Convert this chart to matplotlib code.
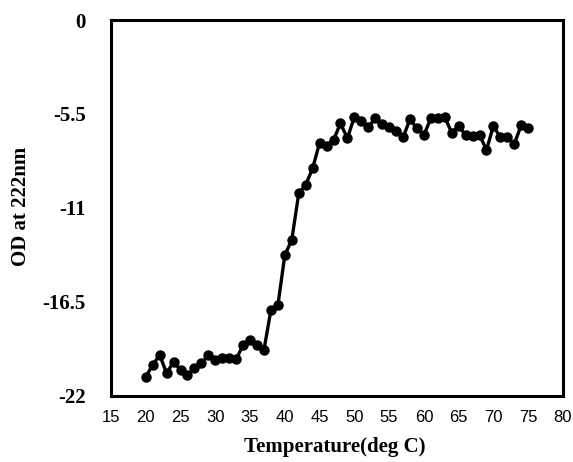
import matplotlib
matplotlib.use("Agg")
import matplotlib.pyplot as plt

# Thermal denaturation scan: ellipticity signal at 222 nm vs temperature
temperature = list(range(20, 76))
od_222 = [
    -20.87, -20.19, -19.60, -20.67, -20.00, -20.48, -20.77, -20.38, -20.09, -19.60,
    -19.90, -19.80, -19.80, -19.86, -19.02, -18.72, -19.00, -19.30, -16.97, -16.70,
    -13.75, -12.87, -10.14, -9.65, -8.68, -7.18, -7.35, -7.02, -6.05, -6.92,
    -5.66, -5.89, -6.28, -5.75, -6.08, -6.28, -6.48, -6.87, -5.81, -6.34,
    -6.73, -5.75, -5.75, -5.69, -6.59, -6.20, -6.73, -6.79, -6.73, -7.60,
    -6.20, -6.87, -6.87, -7.26, -6.14, -6.30,
]
x_ticks = [15, 20, 25, 30, 35, 40, 45, 50, 55, 60, 65, 70, 75, 80]
y_ticks = [0, -5.5, -11, -16.5, -22]
y_tick_labels = ["0", "-5.5", "-11", "-16.5", "-22"]

fig = plt.figure(figsize=(5.73, 4.62), dpi=100)
ax = fig.add_axes([0.1937, 0.1429, 0.7888, 0.8138])

ax.plot(temperature, od_222, color="black", linewidth=2.4,
        marker="o", markersize=6.5, markerfacecolor="black", markeredgecolor="black")

ax.set_xlim(15, 80)
ax.set_ylim(-22, 0)
ax.set_xticks(x_ticks)
ax.set_yticks(y_ticks)
ax.set_yticklabels(y_tick_labels, fontfamily="Liberation Serif",
                   fontweight="bold", fontsize=15)
ax.set_xticklabels([str(t) for t in x_ticks], fontfamily="Liberation Sans",
                   fontsize=12)
ax.tick_params(axis="both", length=0)
ax.tick_params(axis="y", pad=18)
ax.tick_params(axis="x", pad=10)

for side in ax.spines.values():
    side.set_linewidth(2.2)
    side.set_color("black")

ax.set_xlabel("Temperature(deg C)", fontfamily="Liberation Serif",
              fontweight="bold", fontsize=15)
ax.set_ylabel("OD at 222nm", fontfamily="Liberation Serif",
              fontweight="bold", fontsize=15)
ax.xaxis.label.set_va("center")
ax.yaxis.label.set_va("center")
ax.xaxis.set_label_coords(0.496, -0.136)
ax.yaxis.set_label_coords(-0.199, 0.503)

fig.savefig("out.png", dpi=100)
